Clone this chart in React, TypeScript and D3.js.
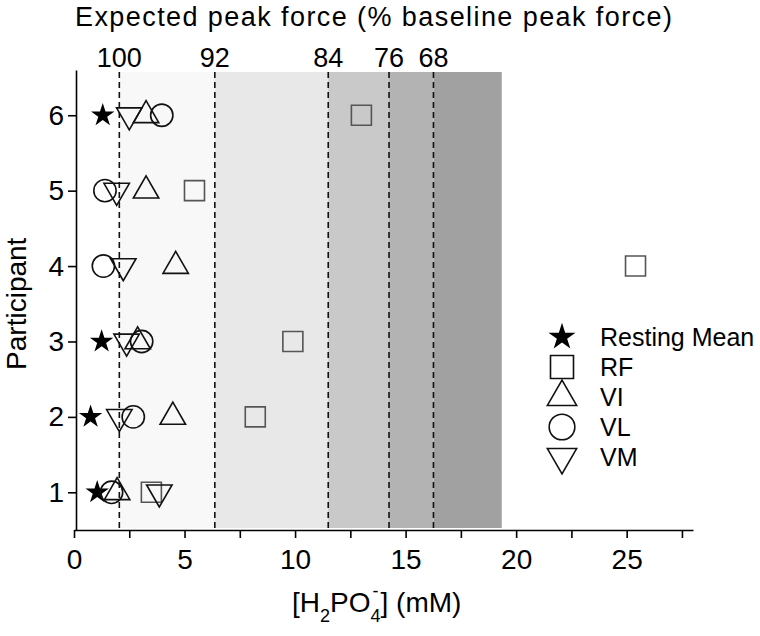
import React, { useEffect, useRef } from 'react';
import * as d3 from 'd3';

// participants 1..6, H2PO4- (mM) per muscle
const PARTICIPANTS = [1, 2, 3, 4, 5, 6];
const RESTING = [1.05, 0.75, 1.25, null, null, 1.3];
const RF = [3.5, 8.2, 9.9, 25.4, 5.45, 13.0];
const VI = [1.95, 4.47, 2.88, 4.6, 3.26, 3.26];
const VL = [1.7, 2.68, 3.06, 1.33, 1.4, 3.97];
const VM = [3.86, 2.05, 2.38, 2.23, 1.93, 2.5];

// expected peak force thresholds (top axis)
const FORCE_LABELS = ['100', '92', '84', '76', '68'];
const FORCE_AT = [2.05, 6.37, 11.5, 14.25, 16.26];
const SHADE_END = 19.35;
const SHADES = ['#f8f8f8', '#e8e8e8', '#c9c9c9', '#b3b3b3', '#a1a1a1'];

const LEGEND = ['Resting Mean', 'RF', 'VI', 'VL', 'VM'];

const W = 760;
const H = 636;

const Chart = () => {
  const svgRef = useRef<SVGSVGElement>(null);

  useEffect(() => {
    const svg = d3.select(svgRef.current).attr('width', W).attr('height', H);
    svg.selectAll('*').remove();
    const font = 'Liberation Sans, Arial, sans-serif';

    const x = d3.scaleLinear().domain([0, 28]).range([74, 693]);
    const y = d3.scaleLinear().domain([0.5, 6.6]).range([530, 70]);

    // shaded zones
    const bounds = [...FORCE_AT, SHADE_END];
    svg.append('g')
      .selectAll('rect')
      .data(SHADES)
      .enter()
      .append('rect')
      .attr('x', (d, i) => x(bounds[i]))
      .attr('width', (d, i) => x(bounds[i + 1]) - x(bounds[i]))
      .attr('y', 72)
      .attr('height', 528 - 72)
      .attr('fill', d => d);

    // dashed threshold lines
    svg.append('g')
      .selectAll('line')
      .data(FORCE_AT)
      .enter()
      .append('line')
      .attr('x1', d => x(d))
      .attr('x2', d => x(d))
      .attr('y1', 72)
      .attr('y2', 530)
      .attr('stroke', '#111')
      .attr('stroke-width', 1.6)
      .attr('stroke-dasharray', '6,4');

    // top labels
    svg.append('g')
      .selectAll('text')
      .data(FORCE_LABELS)
      .enter()
      .append('text')
      .attr('x', (d, i) => x(FORCE_AT[i]))
      .attr('y', 67)
      .attr('text-anchor', 'middle')
      .attr('font-family', font)
      .attr('font-size', 27)
      .text(d => d);

    svg.append('text')
      .attr('x', 75)
      .attr('y', 26)
      .attr('font-family', font)
      .attr('font-size', 27)
      .attr('textLength', 597)
      .attr('lengthAdjust', 'spacing')
      .text('Expected peak force (% baseline peak force)');

    // x axis
    const xAxis = svg.append('g')
      .attr('transform', 'translate(0,530)')
      .call(d3.axisBottom(x).tickValues(d3.range(0, 28, 2.5)).tickSize(8).tickSizeOuter(0)
        .tickFormat(d => (+d % 5 === 0 ? String(d) : '')));
    xAxis.select('.domain').attr('stroke-width', 1.6);
    xAxis.selectAll('line').attr('stroke-width', 1.6);
    xAxis.selectAll('text').attr('font-size', 28).attr('font-family', font).attr('dy', '1.0em');

    // y axis
    const yAxis = svg.append('g')
      .attr('transform', 'translate(76,0)')
      .call(d3.axisLeft(y).tickValues(PARTICIPANTS).tickSize(8).tickSizeOuter(0).tickFormat(d3.format('d')));
    yAxis.select('.domain').attr('stroke-width', 1.6);
    yAxis.selectAll('line').attr('stroke-width', 1.6);
    yAxis.selectAll('text').attr('font-size', 28).attr('font-family', font).attr('x', -12);

    // axis titles
    svg.append('text')
      .attr('transform', `translate(26,${y(3.5)}) rotate(-90)`)
      .attr('text-anchor', 'middle')
      .attr('font-family', font)
      .attr('font-size', 28)
      .text('Participant');

    const xt = svg.append('text')
      .attr('x', 292)
      .attr('y', 612)
      .attr('font-family', font)
      .attr('font-size', 28);
    xt.append('tspan').text('[H');
    xt.append('tspan').attr('font-size', 18).attr('dy', 10).text('2');
    xt.append('tspan').attr('dy', -10).text('PO');
    xt.append('tspan').attr('font-size', 18).attr('dy', 10).text('4');
    xt.append('tspan').attr('font-size', 18).attr('dy', -25).attr('dx', -8).text('-');
    xt.append('tspan').attr('dy', 15).attr('dx', 2).text('] (mM)');

    // markers
    const star = d3.symbol().type(d3.symbolStar).size(170);
    const sq = d3.symbol().type(d3.symbolSquare).size(400);
    const tri = d3.symbol().type(d3.symbolTriangle).size(280);
    const circ = d3.symbol().type(d3.symbolCircle).size(390);

    const series = [
      { vals: RESTING, path: star(), fill: '#000', stroke: 'none', rot: 0 },
      { vals: RF, path: sq(), fill: 'none', stroke: '#555', rot: 0 },
      { vals: VI, path: tri(), fill: 'none', stroke: '#111', rot: 0 },
      { vals: VL, path: circ(), fill: 'none', stroke: '#111', rot: 0 },
      { vals: VM, path: tri(), fill: 'none', stroke: '#111', rot: 180 },
    ];

    series.forEach(s => {
      svg.append('g')
        .selectAll('path')
        .data(PARTICIPANTS.filter((p, i) => s.vals[i] != null))
        .enter()
        .append('path')
        .attr('d', s.path)
        .attr('transform', p => `translate(${x(s.vals[p - 1] as number)},${y(p)}) rotate(${s.rot})`)
        .attr('fill', s.fill)
        .attr('stroke', s.stroke)
        .attr('stroke-width', 1.6);
    });

    // legend
    const lg = svg.append('g');
    LEGEND.forEach((name, i) => {
      const s = series[i];
      const ly = 337 + i * 30;
      lg.append('path')
        .attr('d', s.path)
        .attr('transform', `translate(562,${ly}) rotate(${s.rot}) scale(1.15)`)
        .attr('fill', s.fill)
        .attr('stroke', i === 0 ? 'none' : '#111')
        .attr('stroke-width', 1.4);
      lg.append('text')
        .attr('x', 600)
        .attr('y', ly + 9)
        .attr('font-family', font)
        .attr('font-size', 25)
        .text(name);
    });
  }, []);

  return <svg ref={svgRef} style={{ position: 'absolute', left: 0, top: 0, display: 'block' }}></svg>;
};

export default function App() {
  return <Chart />;
}
